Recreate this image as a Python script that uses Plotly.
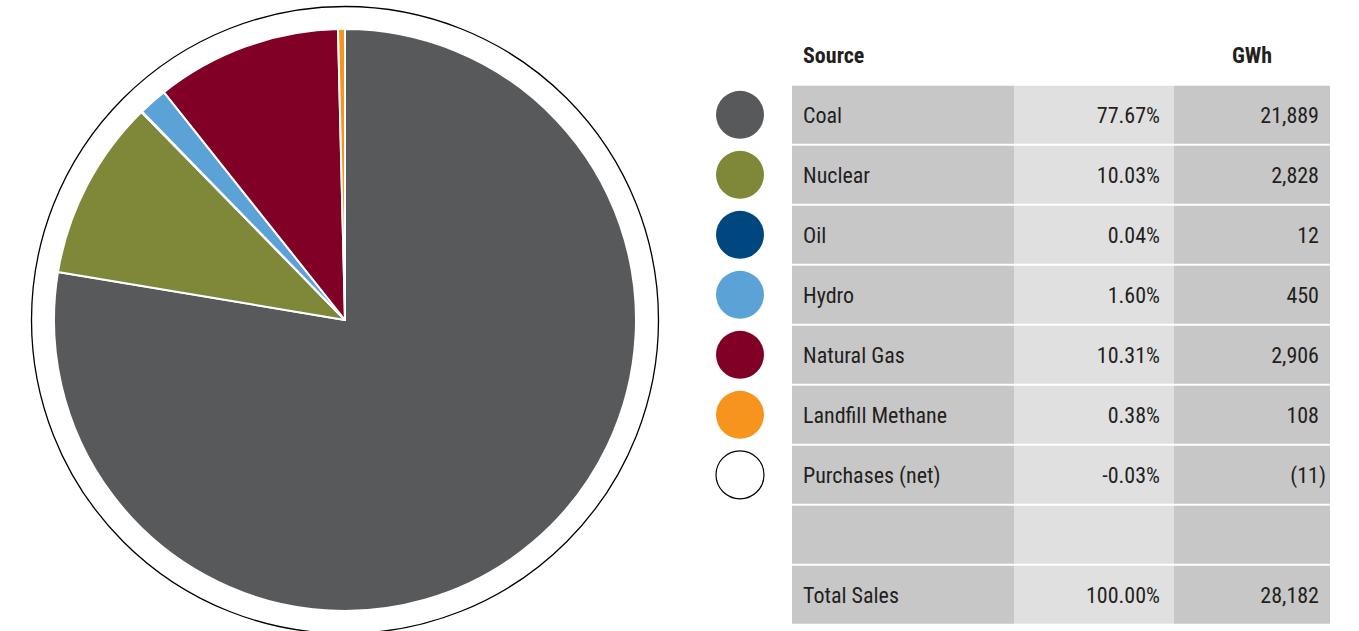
import plotly.graph_objects as go

# ---- data -------------------------------------------------------------
sources = ["Coal", "Nuclear", "Oil", "Hydro", "Natural Gas", "Landfill Methane", "Purchases (net)"]
gwh = [21889, 2828, 12, 450, 2906, 108, -11]
shares = ["77.67%", "10.03%", "0.04%", "1.60%", "10.31%", "0.38%", "-0.03%"]
total_label = "Total Sales"
total_share = "100.00%"
total_gwh = 28182
colors = ["#58595B", "#7F8738", "#00467F", "#5BA3D6", "#800026", "#F7941D", "#FFFFFF"]

header_source = "Source"
header_gwh = "GWh"

# ---- layout constants (pixels) ---------------------------------------
W, H = 1359, 631
FONT = "Roboto Condensed, Liberation Sans Narrow, DejaVu Sans Condensed, sans-serif"
TXT = "#231F20"
CELL_DARK = "#C7C7C7"
CELL_LIGHT = "#E0E0E0"

pie_cx, pie_cy, pie_r = 345, 320, 291
ring_r = 313.5

col_edges = [792, 1014, 1174, 1330]
legend_x = 740
label_x = 803
share_right = 1160
gwh_right = 1326
row0_center = 114.8
row_pitch = 60.0
text_shift = 2.5  # baseline nudge for the condensed face, in pixels


def fmt_gwh(v):
    # accounting style: negatives in parentheses, positives padded by an invisible ")"
    if v < 0:
        return f"({abs(v):,})"
    return f"{v:,}<span style='color:rgba(0,0,0,0)'>)</span>"


fig = go.Figure()

# ---- pie (positive sources only) -------------------------------------
pie_idx = [i for i, v in enumerate(gwh) if v > 0]
fig.add_trace(go.Pie(
    labels=[sources[i] for i in pie_idx],
    values=[gwh[i] for i in pie_idx],
    marker=dict(colors=[colors[i] for i in pie_idx], line=dict(color="white", width=2)),
    sort=False,
    direction="clockwise",
    rotation=0,
    textinfo="none",
    hoverinfo="label+value+percent",
    showlegend=False,
    domain=dict(
        x=[(pie_cx - pie_r) / W, (pie_cx + pie_r) / W],
        y=[(H - pie_cy - pie_r) / H, (H - pie_cy + pie_r) / H],
    ),
))

# ---- table rows ------------------------------------------------------
row_labels = sources + ["", total_label]
row_shares = shares + ["", total_share]
row_gwh = [fmt_gwh(v) for v in gwh] + ["", fmt_gwh(total_gwh)]
rows = list(range(len(row_labels)))
dy = text_shift / row_pitch
text_rows = [r + dy for r in rows]

# cell backgrounds as horizontal bars, one trace per column
for c, fill in enumerate([CELL_DARK, CELL_LIGHT, CELL_DARK]):
    fig.add_trace(go.Bar(
        orientation="h",
        y=rows,
        x=[col_edges[c + 1] - col_edges[c]] * len(rows),
        base=[col_edges[c]] * len(rows),
        width=0.965,
        marker=dict(color=fill, line=dict(width=0)),
        hoverinfo="skip",
        showlegend=False,
    ))

# legend swatches
n_src = len(sources)
fig.add_trace(go.Scatter(
    x=[legend_x] * n_src,
    y=list(range(n_src)),
    mode="markers",
    marker=dict(
        size=48,
        color=colors,
        line=dict(
            color=["rgba(0,0,0,0)"] * (n_src - 1) + ["#000000"],
            width=[0] * (n_src - 1) + [1.2],
        ),
    ),
    hovertext=sources,
    hoverinfo="text",
    showlegend=False,
))

text_font = dict(family=FONT, size=22, color=TXT)

fig.add_trace(go.Scatter(
    x=[label_x] * len(rows), y=text_rows, mode="text", text=row_labels,
    textposition="middle right", textfont=text_font,
    hoverinfo="skip", showlegend=False,
))
fig.add_trace(go.Scatter(
    x=[share_right] * len(rows), y=text_rows, mode="text", text=row_shares,
    textposition="middle left", textfont=text_font,
    hoverinfo="skip", showlegend=False,
))
fig.add_trace(go.Scatter(
    x=[gwh_right] * len(rows), y=text_rows, mode="text", text=row_gwh,
    textposition="middle left", textfont=text_font,
    hoverinfo="skip", showlegend=False,
))

# header row
fig.add_trace(go.Scatter(
    x=[label_x], y=[-1 + dy], mode="text", text=[f"<b>{header_source}</b>"],
    textposition="middle right", textfont=text_font,
    hoverinfo="skip", showlegend=False,
))
fig.add_trace(go.Scatter(
    x=[(col_edges[2] + col_edges[3]) / 2], y=[-1 + dy], mode="text", text=[f"<b>{header_gwh}</b>"],
    textposition="middle center", textfont=text_font,
    hoverinfo="skip", showlegend=False,
))

# outline ring around the pie
fig.add_shape(
    type="circle", xref="paper", yref="paper",
    x0=(pie_cx - ring_r) / W, x1=(pie_cx + ring_r) / W,
    y0=(H - pie_cy - ring_r) / H, y1=(H - pie_cy + ring_r) / H,
    line=dict(color="#000000", width=1.3),
    layer="below",
)

fig.update_layout(
    width=W, height=H,
    margin=dict(l=0, r=0, t=0, b=0),
    paper_bgcolor="white", plot_bgcolor="rgba(0,0,0,0)",
    barmode="overlay",
    showlegend=False,
    xaxis=dict(range=[0, W], visible=False, fixedrange=True, domain=[0, 1]),
    yaxis=dict(
        range=[(H - row0_center) / row_pitch, (0 - row0_center) / row_pitch],
        visible=False, fixedrange=True, domain=[0, 1],
    ),
)

fig.write_html("out.html")
